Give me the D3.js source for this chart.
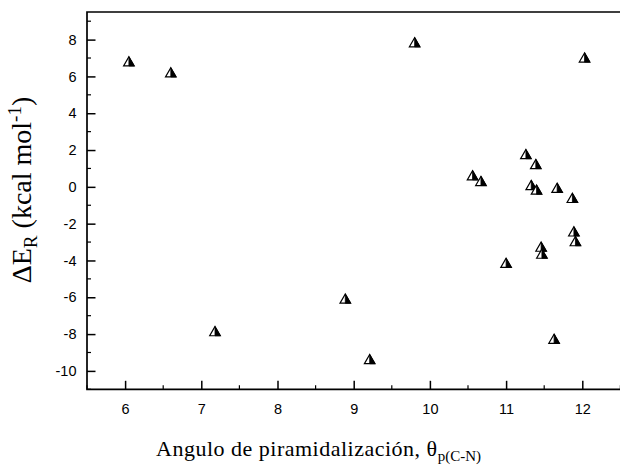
<!DOCTYPE html>
<html>
<head>
<meta charset="utf-8">
<script src="https://cdn.jsdelivr.net/npm/d3@7"></script>
<style>
  html, body { margin: 0; padding: 0; background: #fff; }
  svg { display: block; }
</style>
</head>
<body>
<svg id="chart" width="620" height="468"></svg>
<script>
// Data
const angle = [6.05, 6.60, 7.18, 8.89, 9.21, 9.80, 10.56, 10.67, 11.00, 11.26, 11.39,
               11.33, 11.40, 11.67, 11.87, 11.89, 11.91, 11.46, 11.47, 11.63, 12.03];
const deltaE = [6.82, 6.22, -7.84, -6.07, -9.36, 7.86, 0.63, 0.32, -4.13, 1.78, 1.24,
                0.10, -0.15, -0.05, -0.60, -2.42, -2.95, -3.25, -3.63, -8.25, 7.03];
const xTicks = [6, 7, 8, 9, 10, 11, 12];
const yTicks = [-10, -8, -6, -4, -2, 0, 2, 4, 6, 8];
const xMinor = [5.5, 6.5, 7.5, 8.5, 9.5, 10.5, 11.5, 12.5];
const yMinor = [-11, -9, -7, -5, -3, -1, 1, 3, 5, 7, 9];

const svg = d3.select("#chart");
const mLeft = 87, mRight = 620.4, mTop = 12, mBottom = 389.3;

const x = d3.scaleLinear().domain([5.5, 12.5]).range([mLeft, mRight]);
const y = d3.scaleLinear().domain([-11, 9.5]).range([mBottom, mTop]);

const axisColor = "#000";
const lw = 1.7;
const sans = "'Liberation Sans', Arial, sans-serif";
const serif = "'Liberation Serif', 'Times New Roman', serif";

// minor ticks
const g = svg.append("g");
g.selectAll(".xminor").data(xMinor).enter().append("line")
  .attr("x1", d => x(d)).attr("x2", d => x(d))
  .attr("y1", mBottom).attr("y2", mBottom - 4)
  .attr("stroke", axisColor).attr("stroke-width", 1.2);
g.selectAll(".yminor").data(yMinor).enter().append("line")
  .attr("x1", mLeft).attr("x2", mLeft + 4)
  .attr("y1", d => y(d)).attr("y2", d => y(d))
  .attr("stroke", axisColor).attr("stroke-width", 1.2);

// axes via d3 axis generators (ticks drawn inward)
const xAxis = d3.axisBottom(x).tickValues(xTicks).tickSizeInner(-8.5).tickSizeOuter(0).tickPadding(12)
  .tickFormat(d3.format("d"));
const yAxis = d3.axisLeft(y).tickValues(yTicks).tickSizeInner(-8.5).tickSizeOuter(0).tickPadding(12)
  .tickFormat(d => d < 0 ? "-" + Math.abs(d) : String(d));

const gx = svg.append("g").attr("transform", `translate(0,${mBottom})`).call(xAxis);
const gy = svg.append("g").attr("transform", `translate(${mLeft},0)`).call(yAxis);

[gx, gy].forEach(gg => {
  gg.attr("font-family", null).attr("font-size", null);
  gg.select(".domain").remove();
  gg.selectAll(".tick line").attr("stroke", axisColor).attr("stroke-width", 1.5);
  gg.selectAll(".tick text").attr("fill", "#000")
    .style("font-family", sans).style("font-size", "14.5px");
});
gx.selectAll(".tick text").attr("dy", "0.71em").attr("y", 14);
gy.selectAll(".tick text").attr("x", -10.5);

// frame (left, bottom, top; right edge lies outside the picture)
svg.append("path")
  .attr("d", `M${mRight + 5},${mTop} L${mLeft},${mTop} L${mLeft},${mBottom} L${mRight + 5},${mBottom}`)
  .attr("fill", "none").attr("stroke", axisColor).attr("stroke-width", lw)
  .attr("stroke-linejoin", "miter").attr("stroke-linecap", "square");

// markers: half-filled triangles
const pts = angle.map((a, i) => ({ a, e: deltaE[i] }));
const hw = 5.3, hh = 4.6;
const mk = svg.append("g").selectAll("g").data(pts).enter().append("g")
  .attr("transform", d => `translate(${x(d.a)},${y(d.e)})`);
mk.append("path")
  .attr("d", `M0,${-hh} L${hw},${hh} L${-hw},${hh} Z`)
  .attr("fill", "#fff").attr("stroke", "#000").attr("stroke-width", 1.2).attr("stroke-linejoin", "miter");
mk.append("path")
  .attr("d", `M0,${-hh} L${hw},${hh} L0,${hh} Z`)
  .attr("fill", "#000").attr("stroke", "#000").attr("stroke-width", 0.8);

// axis titles
const xt = svg.append("text")
  .attr("x", 156).attr("y", 456)
  .style("font-family", serif).style("font-size", "22px").style("letter-spacing", "0.5px").attr("fill", "#000");
xt.append("tspan").text("Angulo de piramidalización, θ");
xt.append("tspan").attr("dy", 5).style("font-size", "15px").style("letter-spacing", "0px").text("p(C-N)");

const yt = svg.append("text")
  .attr("transform", `translate(31,190) rotate(-90)`)
  .attr("text-anchor", "middle")
  .style("font-family", serif).style("font-size", "28px").attr("fill", "#000");
yt.append("tspan").text("ΔE");
yt.append("tspan").attr("dy", 6).style("font-size", "19px").text("R");
yt.append("tspan").attr("dy", -6).text(" (kcal mol");
yt.append("tspan").attr("dy", -10).style("font-size", "19px").text("-1");
yt.append("tspan").attr("dy", 10).text(")");
</script>
</body>
</html>
